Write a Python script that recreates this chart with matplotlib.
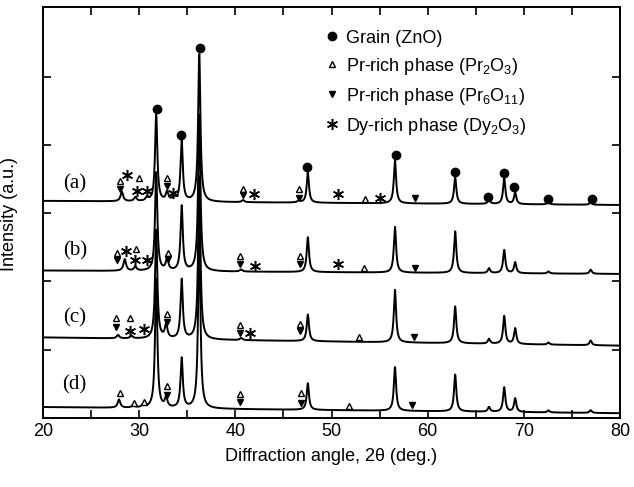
import numpy as np
import matplotlib
matplotlib.use("Agg")
import matplotlib.pyplot as plt
from matplotlib.lines import Line2D

plt.rcParams["font.family"] = ["Liberation Sans", "DejaVu Sans"]
plt.rcParams["mathtext.fontset"] = "custom"
plt.rcParams["mathtext.rm"] = "Liberation Sans"

# -------------------------
# data (intensity in a.u., 1 unit = one y tick)
# -------------------------
samples = ["(a)", "(b)", "(c)", "(d)"]
label_y = [3.43, 2.45, 1.46, 0.48]
base_left = [3.18, 2.16, 1.18, 0.16]
base_right = [3.12, 2.11, 1.06, 0.07]

# ZnO reflections
zno_pos = [31.77, 34.42, 36.25, 47.54, 56.60, 62.86, 66.38, 67.96, 69.10, 72.56, 76.95]
zno_a = [1.28, 0.89, 2.17, 0.44, 0.63, 0.39, 0.07, 0.38, 0.17, 0.04, 0.04]
zno_b = [1.45, 0.95, 2.30, 0.51, 0.67, 0.61, 0.07, 0.34, 0.16, 0.03, 0.06]
zno_c = [1.60, 0.87, 2.40, 0.39, 0.77, 0.54, 0.07, 0.41, 0.23, 0.03, 0.07]
zno_d = [1.90, 0.73, 2.60, 0.39, 0.64, 0.54, 0.07, 0.36, 0.20, 0.03, 0.04]

# small secondary phase reflections (position, height)
minor_a = [(28.2, 0.14), (29.6, 0.06), (30.8, 0.05), (32.9, 0.13), (33.6, 0.06), (40.8, 0.03), (46.6, 0.03)]
minor_b = [(28.5, 0.17), (29.6, 0.06), (32.9, 0.17), (40.6, 0.03)]
minor_c = [(27.8, 0.05), (29.2, 0.04), (32.8, 0.20), (40.6, 0.03)]
minor_d = [(27.9, 0.12), (29.4, 0.04), (30.4, 0.04), (32.8, 0.14)]

# phase marks (2theta, y)
dots_x = [31.85, 34.4, 36.3, 47.5, 56.7, 62.8, 66.3, 67.9, 69.0, 72.5, 77.1]
dots_y = [4.53, 4.14, 5.42, 3.67, 3.85, 3.60, 3.24, 3.59, 3.38, 3.21, 3.21]

up_x = [28.0, 30.0, 32.9, 40.8, 46.6, 53.5,
        27.7, 29.7, 33.0, 40.5, 46.7, 53.4,
        27.6, 29.0, 32.9, 40.5, 46.7, 52.9,
        28.0, 29.5, 30.5, 32.9, 40.5, 46.8, 51.8]
up_y = [3.47, 3.51, 3.51, 3.35, 3.35, 3.21,
        2.42, 2.48, 2.42, 2.38, 2.38, 2.19,
        1.47, 1.46, 1.53, 1.36, 1.38, 1.18,
        0.36, 0.22, 0.23, 0.47, 0.35, 0.36, 0.17]

down_x = [28.0, 32.9, 40.8, 46.6, 58.7,
          27.7, 33.0, 40.5, 46.7, 58.7,
          27.6, 32.9, 40.5, 46.7, 58.6,
          32.9, 40.5, 46.8, 58.4]
down_y = [3.35, 3.40, 3.27, 3.22, 3.22,
          2.32, 2.33, 2.26, 2.26, 2.19,
          1.33, 1.40, 1.25, 1.27, 1.18,
          0.34, 0.23, 0.22, 0.19]

star_x = [28.7, 29.8, 30.8, 33.5, 41.9, 50.7, 55.0,
          28.6, 29.6, 30.8, 42.0, 50.7,
          29.0, 30.5, 41.5]
star_y = [3.56, 3.32, 3.32, 3.29, 3.28, 3.28, 3.22,
          2.45, 2.32, 2.32, 2.23, 2.26,
          1.28, 1.30, 1.24]

legend_labels = ["Grain (ZnO)",
                 "Pr-rich phase (Pr$_\\mathregular{2}$O$_\\mathregular{3}$)",
                 "Pr-rich phase (Pr$_\\mathregular{6}$O$_\\mathregular{11}$)",
                 "Dy-rich phase (Dy$_\\mathregular{2}$O$_\\mathregular{3}$)"]

# -------------------------
# build patterns
# -------------------------
tt = np.arange(20, 80.001, 0.02)


def lorentz(x, x0, h, g=0.14):
    return h / (1 + ((x - x0) / g) ** 2)


fig = plt.figure(figsize=(6.34, 4.87), dpi=100)
ax = fig.add_axes([43 / 634, 69 / 487, 577 / 634, 411 / 487])

for zh, mn, b0, b1 in zip([zno_a, zno_b, zno_c, zno_d],
                          [minor_a, minor_b, minor_c, minor_d],
                          base_left, base_right):
    y = b0 + (b1 - b0) * (tt - 20) / 60
    for p, h in zip(zno_pos, zh):
        y = y + lorentz(tt, p, h)
    for p, h in mn:
        y = y + lorentz(tt, p, h, 0.16)
    ax.plot(tt, y, color="black", lw=1.4)

ax.plot(dots_x, dots_y, "o", color="black", ms=6, ls="none")
ax.plot(up_x, up_y, "^", mfc="white", mec="black", mew=1.0, ms=5, ls="none")
ax.plot(down_x, down_y, "v", color="black", ms=5, ls="none")
ax.plot(star_x, star_y, marker=(6, 2, 0), color="black", ms=8, mew=1.1, ls="none")

for s, ly in zip(samples, label_y):
    ax.text(23.3, ly, s, family="Liberation Serif", fontsize=15, ha="center", va="center")

handles = [Line2D([], [], ls="none", marker="o", color="black", ms=6),
           Line2D([], [], ls="none", marker="^", mfc="white", mec="black", ms=5),
           Line2D([], [], ls="none", marker="v", color="black", ms=5),
           Line2D([], [], ls="none", marker=(6, 2, 0), color="black", ms=8, mew=1.1)]
ax.legend(handles, legend_labels, loc="upper left", bbox_to_anchor=(0.49, 0.945),
          frameon=False, fontsize=13, handlelength=0.7, handletextpad=0.4,
          labelspacing=0.5, borderpad=0, borderaxespad=0)

ax.set_xlim(20, 80)
ax.set_ylim(0, 6.02)
ax.set_xticks(np.arange(20, 81, 10))
ax.set_xticks(np.arange(25, 80, 10), minor=True)
ax.set_yticks(np.arange(1, 6))
ax.set_yticklabels([])
ax.tick_params(axis="both", which="both", direction="in", top=True, right=True,
               length=6, width=1.2, labelsize=13)
for sp in ax.spines.values():
    sp.set_linewidth(1.4)

ax.set_xlabel("Diffraction angle, 2\u03b8 (deg.)", fontsize=13, labelpad=6)
fig.text(10 / 634, 0.56, "Intensity (a.u.)", rotation=90, fontsize=13,
         ha="center", va="center")

fig.savefig("out.png", dpi=100)
